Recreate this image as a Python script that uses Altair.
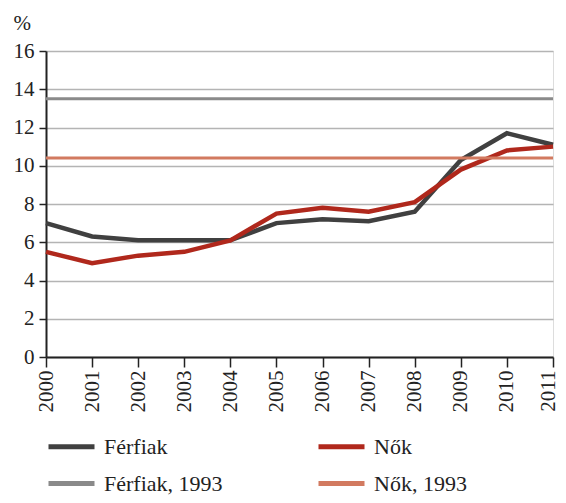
import altair as alt
import pandas as pd

years = [2000, 2001, 2002, 2003, 2004, 2005, 2006, 2007, 2008, 2009, 2010, 2011]
ferfiak = [7.0, 6.3, 6.1, 6.1, 6.1, 7.0, 7.2, 7.1, 7.6, 10.3, 11.7, 11.1]
nok = [5.5, 4.9, 5.3, 5.5, 6.1, 7.5, 7.8, 7.6, 8.1, 9.8, 10.8, 11.0]
ferfiak_1993 = 13.5
nok_1993 = 10.4

# legend fills column by column: col 1 = Férfiak, Férfiak 1993; col 2 = Nők, Nők 1993
series_names = ["Férfiak", "Férfiak, 1993", "Nők", "Nők, 1993"]
series_colors = ["#404040", "#8a8a8a", "#b0281c", "#d27a60"]
draw_order = {"Férfiak": 0, "Nők": 1, "Férfiak, 1993": 2, "Nők, 1993": 3}
y_ticks = [0, 2, 4, 6, 8, 10, 12, 14, 16]

rows = []
for i, yr in enumerate(years):
    rows.append({"year": yr, "value": ferfiak[i], "series": "Férfiak", "w": "main"})
    rows.append({"year": yr, "value": nok[i], "series": "Nők", "w": "main"})
    rows.append({"year": yr, "value": ferfiak_1993, "series": "Férfiak, 1993", "w": "ref"})
    rows.append({"year": yr, "value": nok_1993, "series": "Nők, 1993", "w": "ref"})
df = pd.DataFrame(rows)
df["ord"] = df["series"].map(draw_order)

FONT = "Liberation Serif, Times New Roman, DejaVu Serif, serif"

chart = alt.Chart(df).mark_line(strokeCap="butt", strokeJoin="miter").encode(
    x=alt.X("year:Q",
            scale=alt.Scale(domain=[2000, 2011], nice=False, zero=False),
            axis=alt.Axis(values=years, format="d", labelAngle=-90, labelAlign="right",
                          labelBaseline="middle", title=None, grid=False,
                          tickSize=10, tickWidth=1.5, tickColor="#222",
                          domainColor="#222", domainWidth=2,
                          labelOffset=alt.condition("datum.value == 2011", alt.value(-5), alt.value(0)),
                          labelPadding=3, labelFontSize=21, labelFont=FONT,
                          labelColor="#222")),
    y=alt.Y("value:Q",
            scale=alt.Scale(domain=[0, 16], nice=False),
            axis=alt.Axis(values=y_ticks, title="%", titleAngle=0, titleAlign="left",
                          titleBaseline="alphabetic", titleX=-33, titleY=-22,
                          titleFontSize=21, titleFont=FONT, titleFontWeight="normal",
                          titleColor="#222",
                          grid=True, gridColor="#b4b4b4", gridWidth=1.5,
                          tickSize=7, tickWidth=1.5, tickColor="#222",
                          domainColor="#222", domainWidth=2,
                          labelPadding=5, labelFontSize=21, labelFont=FONT,
                          labelColor="#222")),
    color=alt.Color("series:N",
                    scale=alt.Scale(domain=series_names, range=series_colors),
                    legend=alt.Legend(title=None, orient="none", legendX=0, legendY=370,
                                      columns=2, symbolType="stroke", symbolSize=2116,
                                      symbolStrokeWidth=5, labelFontSize=22, labelFont=FONT,
                                      labelColor="#222", labelOffset=7,
                                      columnPadding=85, rowPadding=-2, labelLimit=300)),
    strokeWidth=alt.StrokeWidth("w:N",
                                scale=alt.Scale(domain=["main", "ref"], range=[4.5, 3]),
                                legend=None),
    order=alt.Order("ord:Q"),
).properties(
    width=507,
    height=306,
    autosize=alt.AutoSizeParams(type="none"),
    padding={"left": 38, "top": 43, "right": 5, "bottom": 138},
).configure_view(
    stroke="#222", strokeWidth=2
).configure(background="white", font=FONT)

chart.save("out.html", embed_options={"renderer": "svg", "actions": False})
